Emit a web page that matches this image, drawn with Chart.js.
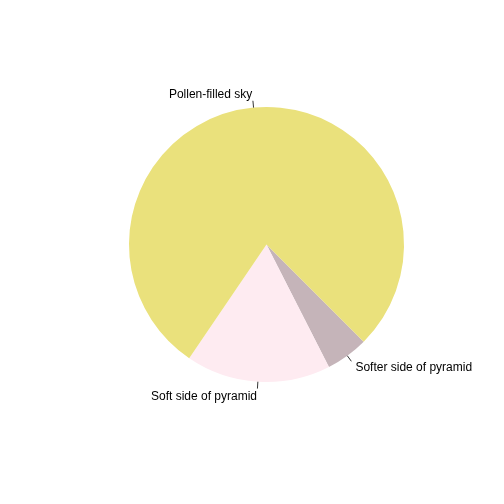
<!DOCTYPE html>
<html>
<head>
<meta charset="utf-8">
<script src="https://cdn.jsdelivr.net/npm/chart.js@4"></script>
<style>
html,body{margin:0;padding:0;background:#ffffff;}
canvas{display:block;}
</style>
</head>
<body>
<canvas id="c" width="504" height="504"></canvas>
<script>
// Data (R-style order, drawn counter-clockwise)
const categories = ["Pollen-filled sky", "Soft side of pyramid", "Softer side of pyramid"];
const shares = [0.78, 0.17, 0.05];
const sliceColors = ["#EAE17C", "#FEEBF1", "#C5B4B9"];

// Chart.js draws clockwise, so reverse the order to keep R's counter-clockwise layout
const cwLabels = categories.slice().reverse();
const cwValues = shares.slice().reverse();
const cwColors = sliceColors.slice().reverse();

const labelPlugin = {
  id: 'outerLabels',
  afterDatasetsDraw(chart) {
    const ctx = chart.ctx;
    const meta = chart.getDatasetMeta(0);
    ctx.save();
    ctx.font = '12px "Liberation Sans", Arial, sans-serif';
    ctx.fillStyle = '#000000';
    ctx.strokeStyle = '#333333';
    ctx.lineWidth = 1;
    ctx.textBaseline = 'middle';
    meta.data.forEach((arc, i) => {
      const p = arc.getProps(['x', 'y', 'startAngle', 'endAngle', 'outerRadius'], true);
      const mid = (p.startAngle + p.endAngle) / 2;
      const cx = Math.cos(mid), cy = Math.sin(mid);
      const r = p.outerRadius;
      ctx.beginPath();
      ctx.moveTo(p.x + r * cx, p.y + r * cy);
      ctx.lineTo(p.x + 1.05 * r * cx, p.y + 1.05 * r * cy);
      ctx.stroke();
      ctx.textAlign = cx < 0 ? 'right' : 'left';
      ctx.fillText(chart.data.labels[i], p.x + 1.1 * r * cx, p.y + 1.1 * r * cy + 1);
    });
    ctx.restore();
  }
};

new Chart(document.getElementById('c'), {
  type: 'pie',
  data: {
    labels: cwLabels,
    datasets: [{
      data: cwValues,
      backgroundColor: cwColors,
      borderWidth: 0,
      hoverOffset: 0
    }]
  },
  options: {
    responsive: false,
    animation: false,
    devicePixelRatio: 1,
    rotation: 135,
    layout: { padding: { left: 129, right: 100, top: 107, bottom: 122 } },
    plugins: {
      legend: { display: false },
      tooltip: { enabled: false }
    }
  },
  plugins: [labelPlugin]
});
</script>
</body>
</html>
